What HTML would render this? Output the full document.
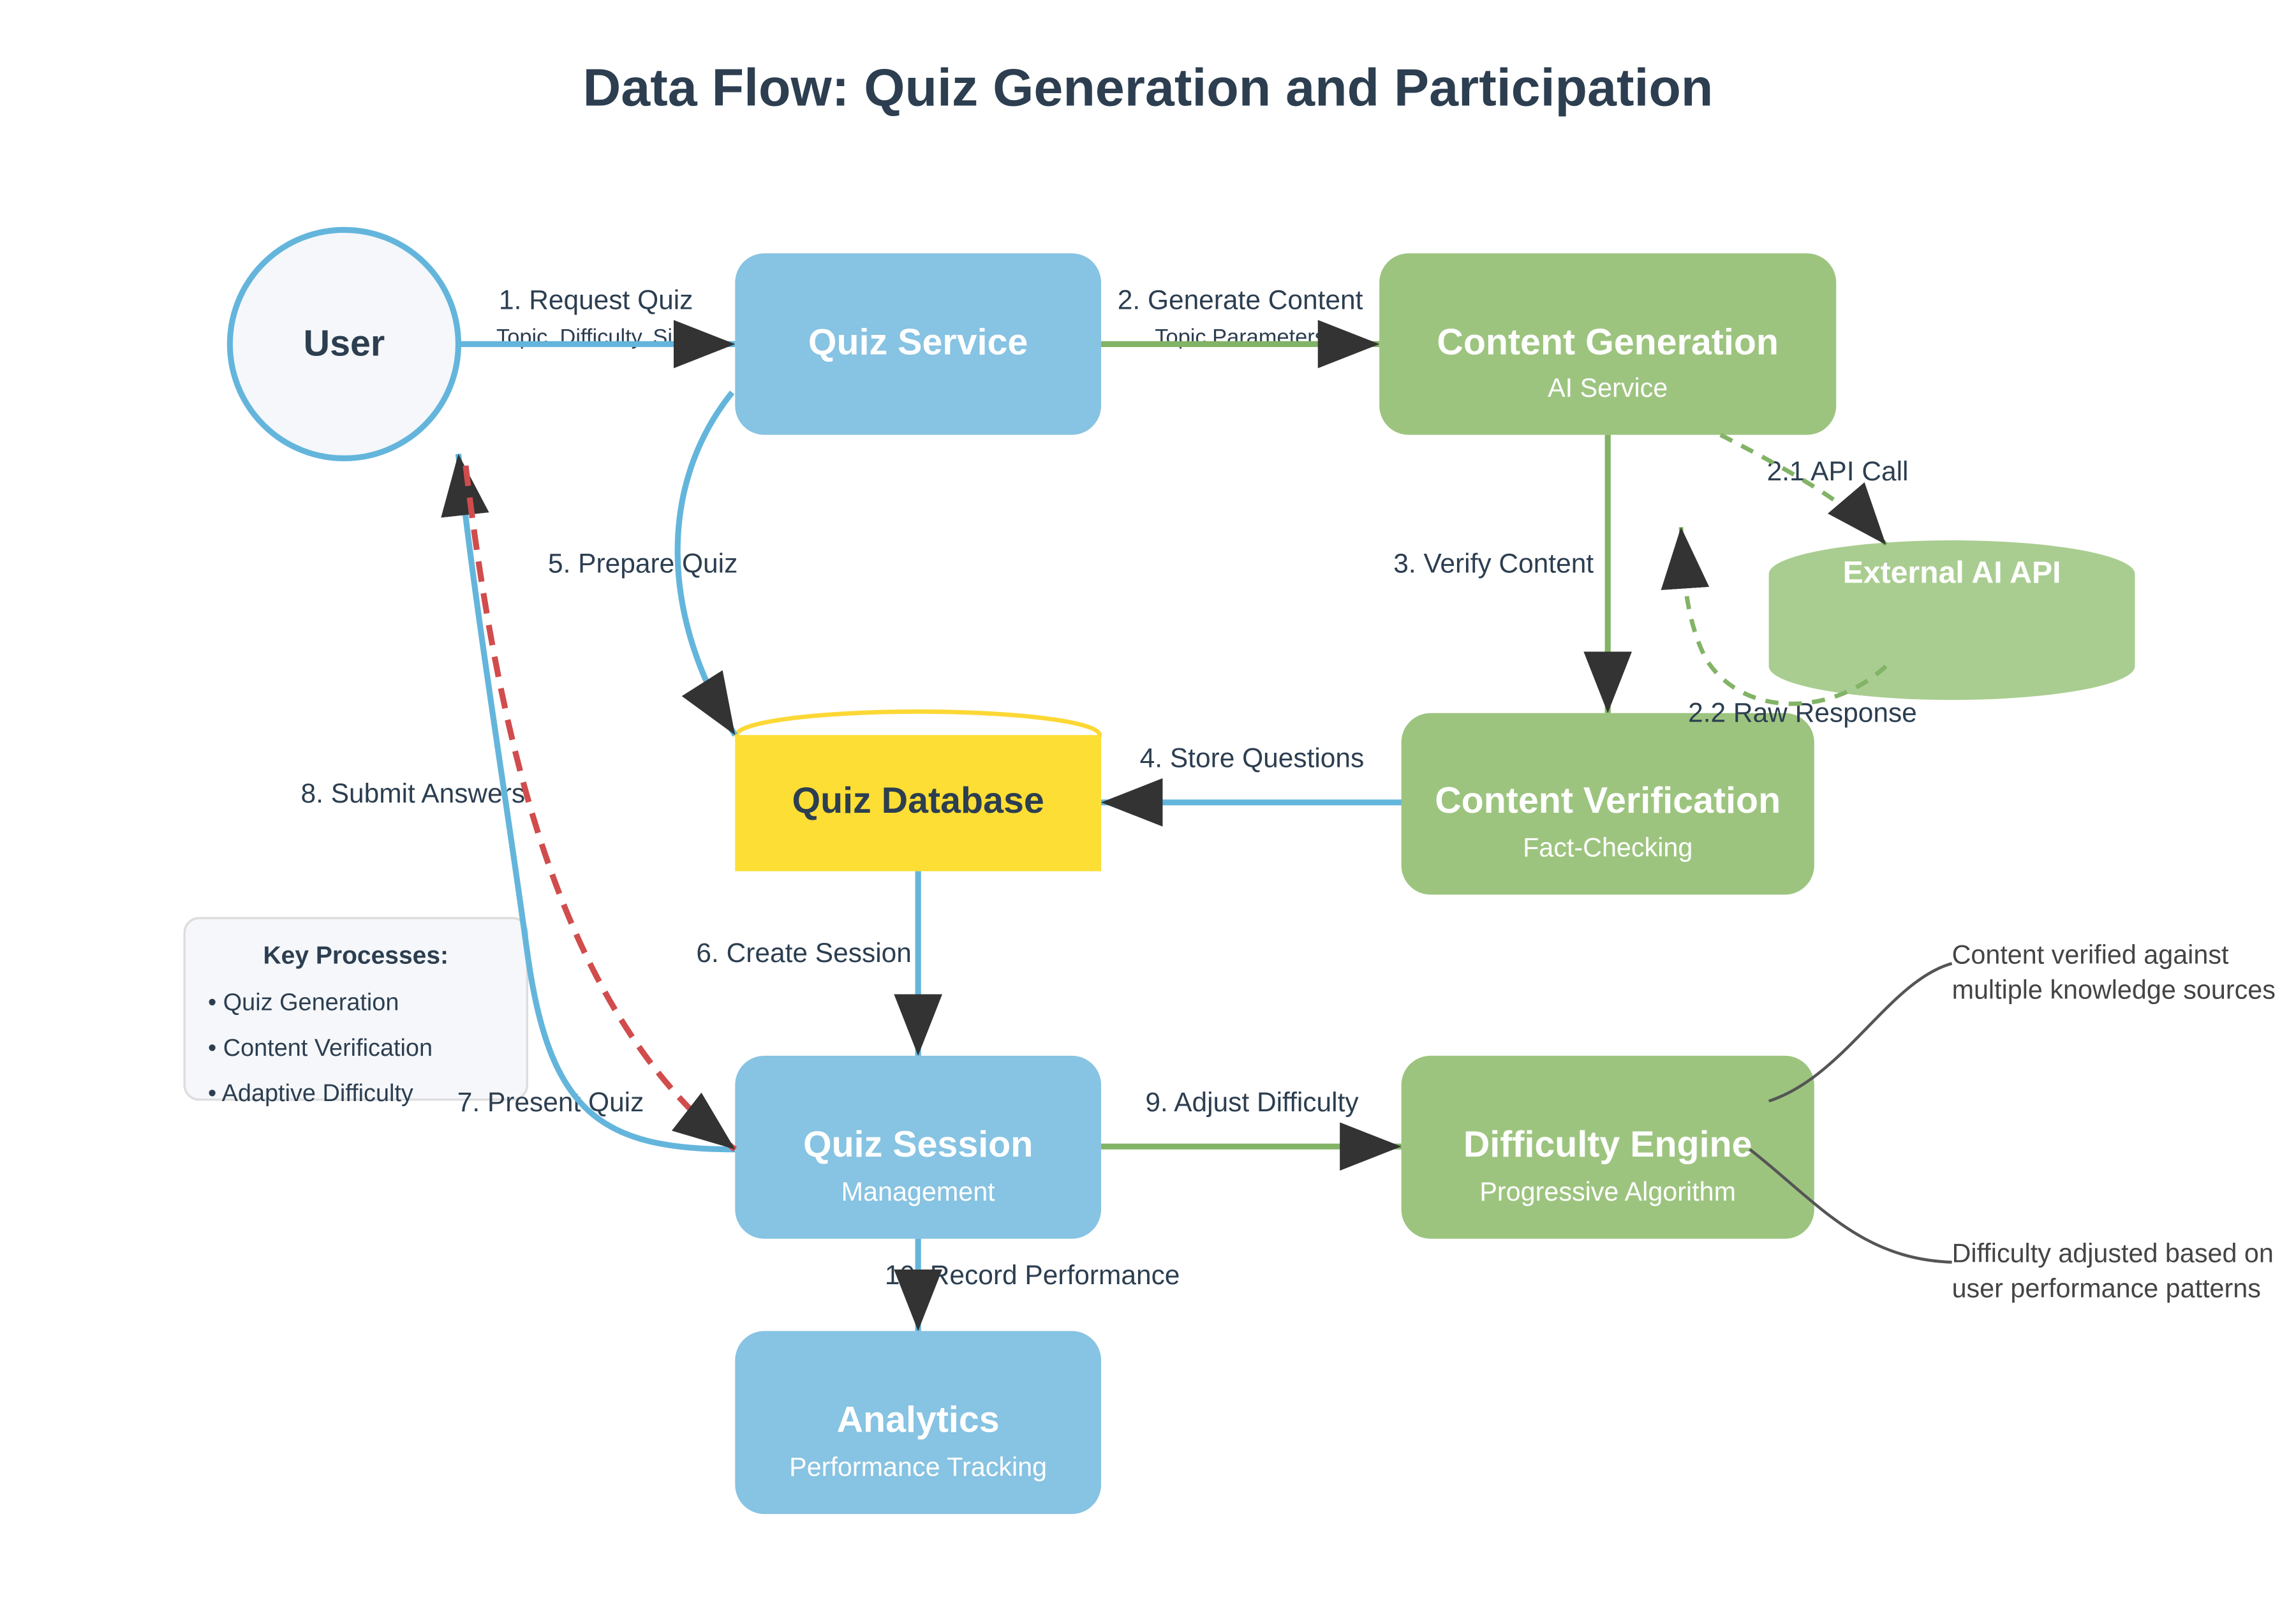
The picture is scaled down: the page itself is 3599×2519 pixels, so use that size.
<!DOCTYPE html>
<html><head><meta charset="utf-8"><style>
html,body{margin:0;padding:0;background:#fff}
svg{display:block}
text{font-family:"Liberation Sans",sans-serif}
</style></head><body>
<svg width="3599" height="2519" viewBox="0 0 1568 1097.5" xmlns="http://www.w3.org/2000/svg">
<defs>
<marker id="a" markerUnits="userSpaceOnUse" markerWidth="44" markerHeight="34" refX="42" refY="16.5" orient="auto"><path d="M0,0 L42,16.5 L0,33 z" fill="#333"/></marker>
</defs>
<rect width="1568" height="1097.5" fill="#fff"/>
<text x="784" y="72" text-anchor="middle" font-size="36" font-weight="bold" fill="#2c3e50">Data Flow: Quiz Generation and Participation</text>

<circle cx="235" cy="235" r="78" fill="#f5f7fa" stroke="#64b5dc" stroke-width="4"/>
<text x="235" y="243" text-anchor="middle" font-size="25" font-weight="bold" fill="#2c3e50">User</text>

<rect x="502" y="173" width="250" height="124" rx="20" fill="#87c3e2"/>
<text x="627" y="242" text-anchor="middle" font-size="25" font-weight="bold" fill="#fff">Quiz Service</text>

<rect x="942" y="173" width="312" height="124" rx="20" fill="#9dc47f"/>
<text x="1098" y="242" text-anchor="middle" font-size="25" font-weight="bold" fill="#fff">Content Generation</text>
<text x="1098" y="271" text-anchor="middle" font-size="18" fill="#fff">AI Service</text>

<path d="M1208,392 A125,23 0 0 1 1458,392 L1458,455 A125,23 0 0 1 1208,455 Z" fill="#a9cd90"/>
<text x="1333" y="398" text-anchor="middle" font-size="21" font-weight="bold" fill="#fff">External AI API</text>

<ellipse cx="627" cy="502" rx="124" ry="16" fill="none" stroke="#fdd835" stroke-width="3"/>
<rect x="502" y="502" width="250" height="93" fill="#fdde35"/>
<text x="627" y="555" text-anchor="middle" font-size="25" font-weight="bold" fill="#2c3e50">Quiz Database</text>

<rect x="957" y="487" width="282" height="124" rx="20" fill="#9dc47f"/>
<text x="1098" y="555" text-anchor="middle" font-size="25" font-weight="bold" fill="#fff">Content Verification</text>
<text x="1098" y="585" text-anchor="middle" font-size="18" fill="#fff">Fact-Checking</text>

<rect x="502" y="721" width="250" height="125" rx="20" fill="#87c3e2"/>
<text x="627" y="790" text-anchor="middle" font-size="25" font-weight="bold" fill="#fff">Quiz Session</text>
<text x="627" y="820" text-anchor="middle" font-size="18" fill="#fff">Management</text>

<rect x="957" y="721" width="282" height="125" rx="20" fill="#9dc47f"/>
<text x="1098" y="790" text-anchor="middle" font-size="25" font-weight="bold" fill="#fff">Difficulty Engine</text>
<text x="1098" y="820" text-anchor="middle" font-size="18" fill="#fff">Progressive Algorithm</text>

<rect x="502" y="909" width="250" height="125" rx="20" fill="#87c3e2"/>
<text x="627" y="978" text-anchor="middle" font-size="25" font-weight="bold" fill="#fff">Analytics</text>
<text x="627" y="1008" text-anchor="middle" font-size="18" fill="#fff">Performance Tracking</text>

<rect x="126" y="627" width="234" height="124" rx="10" fill="#f5f7fa" stroke="#ddd" stroke-width="1.5"/>
<text x="243" y="658" text-anchor="middle" font-size="17" font-weight="bold" fill="#2c3e50">Key Processes:</text>
<text x="142" y="690" font-size="16.5" fill="#2c3e50">• Quiz Generation</text>
<text x="142" y="721" font-size="16.5" fill="#2c3e50">• Content Verification</text>
<text x="142" y="752" font-size="16.5" fill="#2c3e50">• Adaptive Difficulty</text>

<path d="M1208,752 C1260,735 1290,670 1333,658" fill="none" stroke="#555" stroke-width="2"/>
<path d="M1195,785 C1240,820 1270,860 1333,862" fill="none" stroke="#555" stroke-width="2"/>
<text x="1333" y="658" font-size="18" fill="#444">Content verified against</text>
<text x="1333" y="682" font-size="18" fill="#444">multiple knowledge sources</text>
<text x="1333" y="862" font-size="18" fill="#444">Difficulty adjusted based on</text>
<text x="1333" y="886" font-size="18" fill="#444">user performance patterns</text>

<g font-size="18.5" fill="#2c3e50" text-anchor="middle">
<text x="407" y="211">1. Request Quiz</text>
<text x="407" y="235" font-size="15">Topic, Difficulty, Size</text>
<text x="847" y="211">2. Generate Content</text>
<text x="847" y="235" font-size="15">Topic Parameters</text>
<text x="1255" y="328">2.1 API Call</text>
<text x="1020" y="391">3. Verify Content</text>
<text x="1231" y="493">2.2 Raw Response</text>
<text x="855" y="524">4. Store Questions</text>
<text x="439" y="391">5. Prepare Quiz</text>
<text x="549" y="657">6. Create Session</text>
<text x="282" y="548">8. Submit Answers</text>
<text x="376" y="759">7. Present Quiz</text>
<text x="855" y="759">9. Adjust Difficulty</text>
<text x="705" y="877">10. Record Performance</text>
</g>

<g fill="none" stroke-width="4">
<line x1="313" y1="235" x2="502" y2="235" stroke="#64b5dc" marker-end="url(#a)"/>
<line x1="752" y1="235" x2="942" y2="235" stroke="#82b366" marker-end="url(#a)"/>
<path d="M1175,297 C1220,320 1265,345 1288,372" stroke="#82b366" stroke-width="3" stroke-dasharray="9,7" marker-end="url(#a)"/>
<path d="M1288,455 C1250,490 1190,490 1165,450 C1150,420 1150,390 1148,360" stroke="#82b366" stroke-width="3" stroke-dasharray="9,7" marker-end="url(#a)"/>
<line x1="1098" y1="297" x2="1098" y2="487" stroke="#82b366" marker-end="url(#a)"/>
<line x1="957" y1="548" x2="752" y2="548" stroke="#64b5dc" marker-end="url(#a)"/>
<path d="M500,268 C450,330 450,420 502,502" stroke="#64b5dc" marker-end="url(#a)"/>
<line x1="627" y1="595" x2="627" y2="721" stroke="#64b5dc" marker-end="url(#a)"/>
<path d="M502,785 C410,785 375,760 360,650 C345,540 325,420 313,310" stroke="#64b5dc" marker-end="url(#a)"/>
<path d="M318,318 C340,500 380,690 502,785" stroke="#d14c4c" stroke-dasharray="14,8" marker-end="url(#a)"/>
<line x1="752" y1="783" x2="957" y2="783" stroke="#82b366" marker-end="url(#a)"/>
<line x1="627" y1="846" x2="627" y2="909" stroke="#64b5dc" marker-end="url(#a)"/>
</g>
</svg>
</body></html>
